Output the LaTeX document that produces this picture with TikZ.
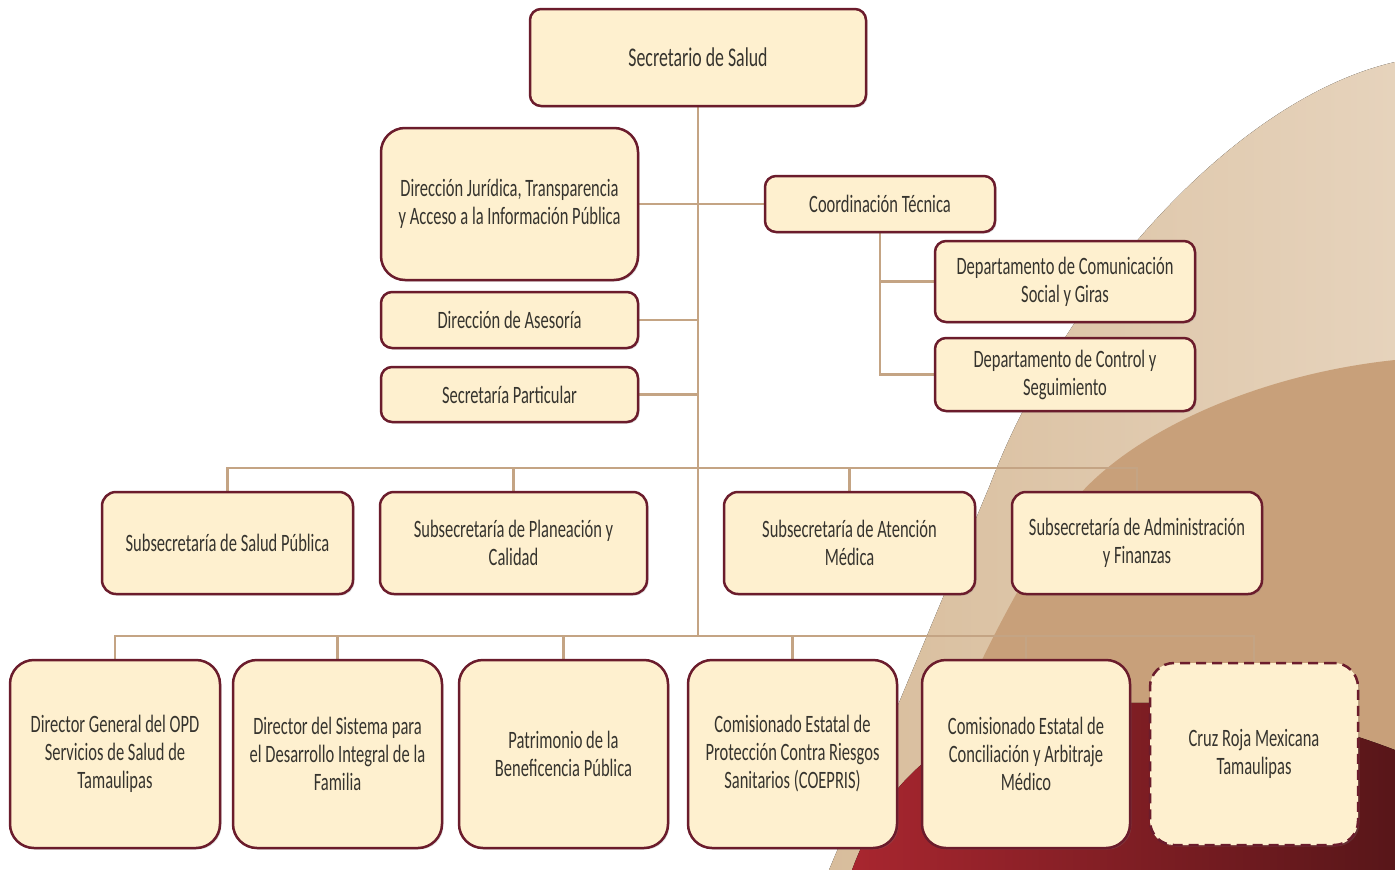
\documentclass[tikz,border=0pt]{standalone}
\usepackage{fontspec}
\setmainfont{Carlito}[FakeStretch=0.66]
\usetikzlibrary{shadows}
\definecolor{cream}{HTML}{FEF0CF}
\definecolor{maroon}{HTML}{6B1C2C}
\definecolor{conn}{HTML}{C4A484}
\definecolor{txt}{HTML}{36342E}
\definecolor{lighttan}{HTML}{D8BD9C}
\definecolor{lighttanR}{HTML}{E6D3BC}
\definecolor{medtan}{HTML}{C8A07A}
\definecolor{darkredL}{HTML}{A8262F}
\definecolor{darkredR}{HTML}{581619}
\pgfdeclarelayer{bg}
\pgfdeclarelayer{links}
\pgfsetlayers{bg,links,main}
\begin{document}
\begin{tikzpicture}[x=1pt,y=-1pt,
  orgbox/.style={draw=maroon, line width=2.5pt, fill=cream, align=center, inner sep=0pt,
    text=txt, font=\fontsize{25}{28}\selectfont, rounded corners=11pt,
    drop shadow={opacity=0.25, shadow xshift=1.5pt, shadow yshift=-1.5pt}},
  bigbox/.style={orgbox, rounded corners=24pt},
  link/.style={draw=conn, line width=2.5pt}]
\useasboundingbox (0,0) rectangle (1395,870);
\begin{pgfonlayer}{bg}
\fill[white] (0,0) rectangle (1395,870);
\fill[left color=lighttan, right color=lighttanR]
  (1395,62) .. controls (1230,100) and (1060,300) .. (990,485) -- (829,870)
  -- (1395,870) -- cycle;
\fill[medtan]
  (1395,360) .. controls (1250,375) and (1110,440) .. (1060,520)
  .. controls (1030,568) and (975,660) .. (940,760) -- (960,870)
  -- (1395,870) -- cycle;
\fill[left color=darkredL, right color=darkredR]
  (852,870) .. controls (900,740) and (1000,700) .. (1150,703)
  .. controls (1250,705) and (1330,725) .. (1395,750)
  -- (1395,870) -- cycle;
\end{pgfonlayer}

% top
\node[orgbox, minimum width=336pt, minimum height=97pt, font=\fontsize{27}{30}\selectfont] (sec) at (698,57.5) {Secretario de Salud};
\node[bigbox, minimum width=257pt, minimum height=152pt] (jur) at (509.5,204) {Dirección Jurídica, Transparencia\\y Acceso a la Información Pública};
\node[orgbox, minimum width=257pt, minimum height=56pt] (ase) at (509.5,320) {Dirección de Asesoría};
\node[orgbox, minimum width=257pt, minimum height=55pt] (par) at (509.5,394.5) {Secretaría Particular};
\node[orgbox, minimum width=230pt, minimum height=56pt] (coord) at (880,204) {Coordinación Técnica};
\node[orgbox, minimum width=260pt, minimum height=81pt] (com) at (1065,281.5) {Departamento de Comunicación\\Social y Giras};
\node[orgbox, minimum width=260pt, minimum height=73pt] (con) at (1065,374.5) {Departamento de Control y\\Seguimiento};
% subsecretarias
\node[orgbox, minimum width=251pt, minimum height=102pt, rounded corners=14pt] (ssp) at (227.5,543) {Subsecretaría de Salud Pública};
\node[orgbox, minimum width=267pt, minimum height=102pt, rounded corners=14pt] (spc) at (513.5,543) {Subsecretaría de Planeación y\\Calidad};
\node[orgbox, minimum width=251pt, minimum height=102pt, rounded corners=14pt] (sam) at (849.5,543) {Subsecretaría de Atención\\Médica};
\node[orgbox, minimum width=250pt, minimum height=102pt, rounded corners=14pt] (saf) at (1137,543) {Subsecretaría de Administración\\y Finanzas};
% bottom row
\node[bigbox, minimum width=210pt, minimum height=188pt] (opd) at (115,754) {Director General del OPD\\Servicios de Salud de\\Tamaulipas};
\node[bigbox, minimum width=209pt, minimum height=188pt] (dif) at (337.5,754) {Director del Sistema para\\el Desarrollo Integral de la\\Familia};
\node[bigbox, minimum width=209pt, minimum height=188pt] (pat) at (563.5,754) {Patrimonio de la\\Beneficencia Pública};
\node[bigbox, minimum width=209pt, minimum height=188pt] (coe) at (792.5,754) {Comisionado Estatal de\\Protección Contra Riesgos\\Sanitarios (COEPRIS)};
\node[bigbox, minimum width=208pt, minimum height=188pt] (cea) at (1026,754) {Comisionado Estatal de\\Conciliación y Arbitraje\\Médico};
\node[bigbox, minimum width=208pt, minimum height=182pt, dash pattern=on 10pt off 6pt] (cruz) at (1254,754) {Cruz Roja Mexicana\\Tamaulipas};

\coordinate (busA) at (698,468);
\coordinate (busB) at (698,636);
\begin{pgfonlayer}{links}
\draw[link] (sec.south) -- (busB);
\draw[link] (jur.east) -- (coord.west);
\draw[link] (ase.east) -- (ase.east -| sec.south);
\draw[link] (par.east) -- (par.east -| sec.south);
\draw[link] (coord.south) |- (con.west);
\draw[link] (com.west) -| (coord.south);
\draw[link] (ssp.north) |- (saf.north |- busA) -- (saf.north);
\draw[link] (spc.north) -- (spc.north |- busA);
\draw[link] (sam.north) -- (sam.north |- busA);
\draw[link] (opd.north) |- (cruz.north |- busB) -- (cruz.north);
\draw[link] (dif.north) -- (dif.north |- busB);
\draw[link] (pat.north) -- (pat.north |- busB);
\draw[link] (coe.north) -- (coe.north |- busB);
\draw[link] (cea.north) -- (cea.north |- busB);
\end{pgfonlayer}
\end{tikzpicture}
\end{document}
